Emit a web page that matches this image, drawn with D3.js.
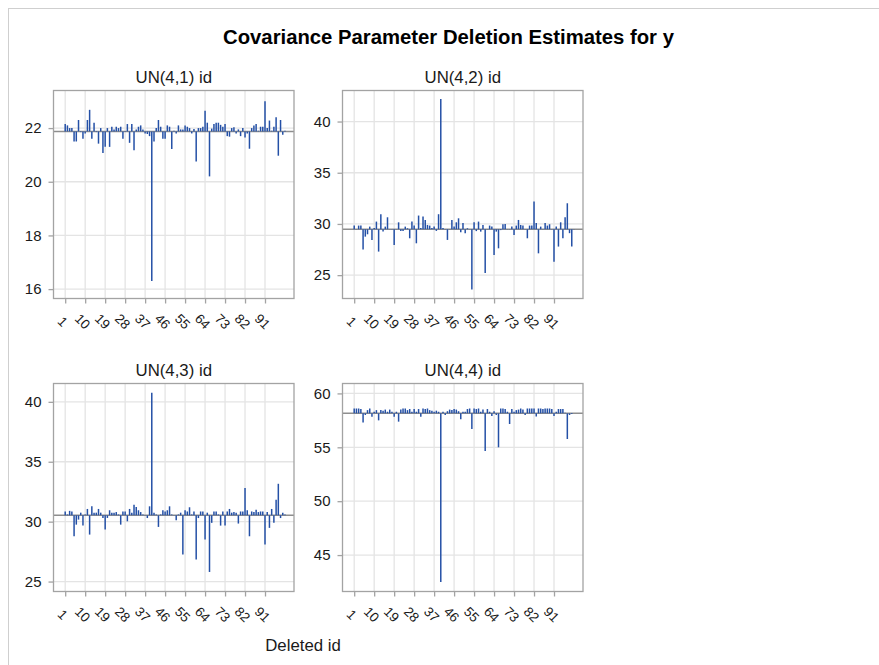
<!DOCTYPE html>
<html>
<head>
<meta charset="utf-8">
<script src="https://cdn.jsdelivr.net/npm/d3@7/dist/d3.min.js"></script>
<style>
  body { margin: 0; background: #fff; }
  svg { display: block; font-family: "Liberation Sans", Arial, sans-serif; }
</style>
</head>
<body>
<svg id="chart" width="879" height="665"></svg>
<script>
// Deleted subject ids (x categories)
const ids = [1,2,3,4,5,6,7,8,9,10,11,12,13,14,15,16,17,18,19,20,21,22,23,24,25,26,27,28,29,30,
  31,32,33,34,35,36,37,38,39,40,41,42,43,44,45,46,47,48,49,50,51,52,53,54,55,56,57,58,59,60,
  61,62,63,64,65,66,67,68,69,70,71,72,73,74,75,76,77,78,79,80,81,82,83,84,85,86,87,88,89,90,
  91,92,93,94,95,96,97,98,99,100];

const xTickValues = [1, 10, 19, 28, 37, 46, 55, 64, 73, 82, 91];

const panelTitles = ["UN(4,1) id", "UN(4,2) id", "UN(4,3) id", "UN(4,4) id"];

// Covariance parameter estimates with each id removed
const un41 = [22.15,22.10,22.00,22.00,21.50,21.50,22.30,21.85,21.60,21.80,
  22.30,22.68,21.60,22.20,21.85,21.42,22.00,21.07,21.30,22.00,
  21.30,22.05,21.95,22.05,22.00,22.05,21.60,21.85,22.15,21.45,
  22.15,21.17,21.95,22.05,22.10,21.95,21.80,21.78,21.70,16.30,
  21.50,22.00,22.30,22.05,21.60,21.60,22.10,22.05,21.22,21.90,
  21.80,22.10,21.95,21.95,22.10,22.05,22.00,21.80,21.97,20.75,
  22.00,22.00,22.05,22.65,22.20,20.20,21.98,22.15,22.20,22.20,
  22.12,22.05,22.15,21.70,21.68,22.00,22.03,21.80,21.95,21.70,
  22.00,21.65,21.80,21.23,22.00,22.10,22.15,21.90,22.05,22.05,
  23.00,22.00,22.28,21.90,22.05,22.40,20.97,22.30,21.75,21.90];

const un42 = [29.84,29.50,29.84,29.84,27.50,28.76,28.99,29.74,28.44,29.60,
  30.23,27.30,30.95,29.25,29.74,30.65,29.50,29.45,27.95,29.50,
  30.16,29.32,29.30,29.74,29.58,28.60,30.23,29.84,28.11,30.82,
  29.60,30.72,30.39,29.90,29.84,29.60,29.74,29.32,30.95,42.20,
  29.60,29.50,28.44,29.50,30.39,29.74,30.16,30.55,29.20,30.10,
  29.10,29.58,29.50,23.60,30.16,29.30,30.23,29.25,29.90,25.20,
  29.50,29.84,29.74,26.97,29.25,27.62,29.40,29.97,30.00,29.50,
  29.50,29.74,28.93,29.84,30.39,29.90,29.84,29.50,28.60,29.84,
  29.84,32.18,30.10,27.13,29.74,29.50,30.10,29.84,29.97,29.50,
  26.32,29.74,27.79,30.16,28.60,30.65,32.02,29.10,27.80,29.50];

const un43 = [30.85,30.60,30.90,30.85,28.78,29.75,30.17,30.75,29.67,30.60,
  31.06,28.92,31.28,30.75,30.75,31.06,30.75,30.31,29.34,30.31,
  30.95,30.75,30.75,30.80,30.60,29.75,30.85,30.85,30.03,31.06,
  30.75,31.42,31.22,30.95,30.80,30.60,30.55,30.30,31.28,40.75,
  30.75,30.60,29.56,30.60,30.95,30.85,30.95,31.28,30.60,30.55,
  30.11,30.60,30.75,27.26,30.95,30.85,31.20,30.60,30.85,26.85,
  30.30,30.85,30.85,28.50,30.75,25.80,29.90,30.85,30.85,30.60,
  29.67,30.85,29.67,30.85,31.06,30.75,30.80,30.75,29.84,30.85,
  30.85,32.80,30.95,28.78,30.85,30.80,31.00,30.80,30.85,30.85,
  28.10,30.80,29.48,31.06,29.90,31.83,33.16,30.30,30.75,30.60];

const un44 = [58.60,58.60,58.60,58.55,57.29,58.00,58.45,58.60,57.84,58.30,
  58.45,57.50,58.45,58.40,58.50,58.30,58.50,58.30,57.84,58.30,
  57.38,58.50,58.60,58.60,58.45,58.55,58.30,58.55,58.30,58.55,
  57.84,58.60,58.55,58.60,58.45,58.40,58.30,58.40,58.30,42.50,
  58.30,58.00,58.35,58.50,58.45,58.55,58.50,58.35,57.60,58.30,
  58.30,58.55,58.60,56.70,58.60,58.55,58.60,58.30,58.50,54.66,
  58.55,58.30,57.90,58.35,58.00,55.00,58.60,58.60,58.55,58.30,
  57.16,58.55,58.30,58.45,58.50,58.60,58.50,58.00,58.60,58.60,
  58.60,58.60,57.85,58.60,58.60,58.55,58.60,58.60,58.60,58.55,
  57.90,58.30,58.55,58.55,58.55,58.20,55.77,58.00,58.10,58.15];

// Estimates from the full data (needle baselines)
const fullEstimates = [21.875, 29.48, 30.53, 58.15];

const yTicks41 = [16, 18, 20, 22];
const yTicks42 = [25, 30, 35, 40];
const yTicks43 = [25, 30, 35, 40];
const yTicks44 = [45, 50, 55, 60];

const series = [un41, un42, un43, un44];
const yTickSets = [yTicks41, yTicks42, yTicks43, yTicks44];
const yDomains = [[15.65, 23.40], [22.72, 43.03], [24.17, 41.53], [41.62, 60.92]];

// Layout of the 2x2 lattice
const cellW = 240.5, cellH = 208;
const cells = [
  { x: 53.5, y: 90.5 }, { x: 342.5, y: 90.5 },
  { x: 53.5, y: 383.5 }, { x: 342.5, y: 383.5 }
];

const needleColor = "#2450a6";
const gridColor = "#e4e4e4";
const frameColor = "#a3a3a3";
const textColor = "#1a1a1a";

const svg = d3.select("#chart");

// outer graph border
svg.append("rect")
  .attr("x", 8.5).attr("y", 8.5)
  .attr("width", 1000).attr("height", 1000)
  .attr("fill", "none").attr("stroke", "#cfcfcf").attr("stroke-width", 1);

svg.append("text")
  .attr("x", 448.5).attr("y", 44)
  .attr("text-anchor", "middle")
  .attr("font-size", "20.3px").attr("font-weight", "bold")
  .attr("fill", "#000")
  .text("Covariance Parameter Deletion Estimates for y");

const x = d3.scaleLinear().domain([-4.27, 104.06]).range([0, cellW]);

series.forEach((vals, p) => {
  const cell = cells[p];
  const y = d3.scaleLinear().domain(yDomains[p]).range([cellH, 0]);
  const g = svg.append("g").attr("transform", `translate(${cell.x},${cell.y})`);

  // panel header
  g.append("text")
    .attr("x", cellW / 2).attr("y", -8)
    .attr("text-anchor", "middle")
    .attr("font-size", "16.8px").attr("fill", textColor)
    .text(panelTitles[p]);

  // grid
  g.append("g").selectAll("line").data(xTickValues).join("line")
    .attr("x1", d => x(d)).attr("x2", d => x(d))
    .attr("y1", 0).attr("y2", cellH)
    .attr("stroke", gridColor).attr("stroke-width", 1.3);
  g.append("g").selectAll("line").data(yTickSets[p]).join("line")
    .attr("x1", 0).attr("x2", cellW)
    .attr("y1", d => y(d)).attr("y2", d => y(d))
    .attr("stroke", gridColor).attr("stroke-width", 1.3);

  // reference line at the full-data estimate
  g.append("line")
    .attr("x1", 0).attr("x2", cellW)
    .attr("y1", y(fullEstimates[p])).attr("y2", y(fullEstimates[p]))
    .attr("stroke", "#8e8e8e").attr("stroke-width", 1.5);

  // needles
  g.append("g").selectAll("line").data(ids).join("line")
    .attr("x1", (d) => x(d)).attr("x2", (d) => x(d))
    .attr("y1", y(fullEstimates[p]))
    .attr("y2", (d, i) => y(vals[i]))
    .attr("stroke", needleColor).attr("stroke-width", 1.5);

  // frame
  g.append("rect")
    .attr("width", cellW).attr("height", cellH)
    .attr("fill", "none").attr("stroke", frameColor).attr("stroke-width", 1.3);

  // y axis
  const ya = g.append("g").call(
    d3.axisLeft(y).tickValues(yTickSets[p]).tickSize(5).tickPadding(7).tickFormat(d3.format("d"))
  );
  ya.select(".domain").remove();
  ya.selectAll(".tick line").attr("stroke", frameColor).attr("stroke-width", 1.3);
  ya.selectAll(".tick text")
    .attr("font-size", "15px").attr("fill", textColor)
    .attr("font-family", "Liberation Sans, Arial, sans-serif");

  // x axis with diagonal labels
  const xa = g.append("g").attr("transform", `translate(0,${cellH})`).call(
    d3.axisBottom(x).tickValues(xTickValues).tickSize(5).tickFormat(d3.format("d"))
  );
  xa.select(".domain").remove();
  xa.selectAll(".tick line").attr("stroke", frameColor).attr("stroke-width", 1.3);
  xa.selectAll(".tick text")
    .attr("x", 0).attr("y", 0).attr("dy", "0.35em")
    .attr("text-anchor", "middle")
    .attr("transform", "translate(-3,23) rotate(45)")
    .attr("font-size", "13.5px").attr("fill", textColor)
    .attr("font-family", "Liberation Sans, Arial, sans-serif");
});

// shared x axis label
svg.append("text")
  .attr("x", 303).attr("y", 651)
  .attr("text-anchor", "middle")
  .attr("font-size", "16.8px").attr("fill", textColor)
  .text("Deleted id");
</script>
</body>
</html>
